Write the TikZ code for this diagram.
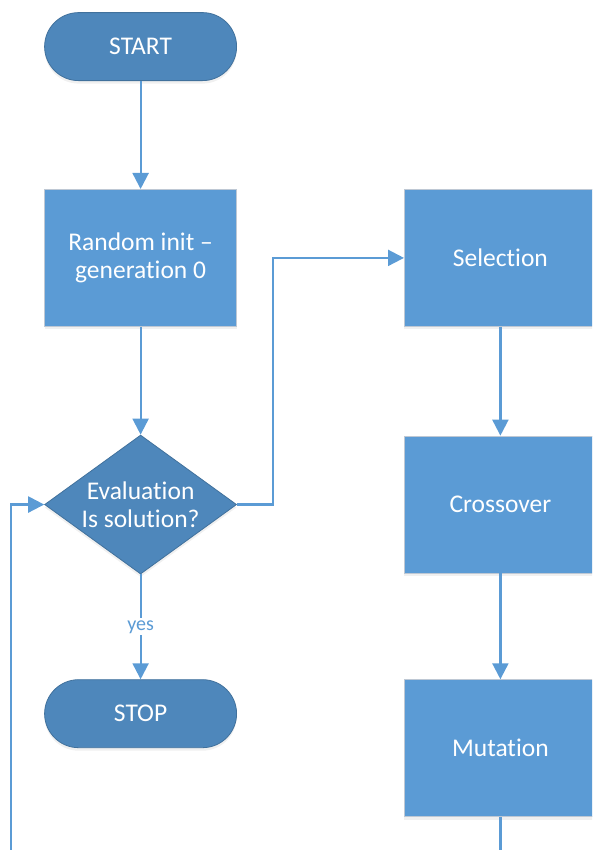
\documentclass[tikz,border=0pt]{standalone}
\usepackage{fontspec}
\setmainfont[Ligatures=NoCommon]{Carlito}
\usetikzlibrary{shapes.geometric}
\usetikzlibrary{arrows.meta}
\usetikzlibrary{shadows}

\definecolor{flowblue}{RGB}{91,155,213}
\definecolor{darkblue}{RGB}{78,135,187}
\definecolor{edgeblue}{RGB}{65,113,156}
\definecolor{edgegray}{RGB}{190,200,212}

\tikzset{
	terminal/.style={rectangle,rounded corners=34pt,minimum width=192pt,minimum height=68pt,inner sep=0pt,fill=darkblue,draw=edgeblue,line width=0.8pt,text=white,drop shadow={opacity=0.12,shadow xshift=0pt,shadow yshift=-3pt}},
	process/.style={rectangle,minimum width=192pt,minimum height=137pt,inner sep=0pt,fill=flowblue,draw=edgegray,line width=0.8pt,text=white,align=center,drop shadow={opacity=0.12,shadow xshift=0pt,shadow yshift=-3pt}},
	decision/.style={diamond,aspect=1.38,minimum width=192pt,minimum height=139pt,inner sep=0pt,fill=darkblue,draw=edgeblue,line width=0.8pt,text=white,align=center,drop shadow={opacity=0.12,shadow xshift=0pt,shadow yshift=-3pt}},
	flow/.style={draw=flowblue,line width=2.2pt,-{Triangle[length=16pt,width=16pt]}},
	plain/.style={draw=flowblue,line width=2.2pt}
}

\begin{document}
\begin{tikzpicture}[font=\fontsize{25.5}{28}\selectfont]
	\useasboundingbox (0,0) rectangle (592pt,-850pt);
	\clip (0,0) rectangle (592pt,-850pt);
	\matrix[column sep=167pt,row sep=108pt,inner sep=0pt,matrix anchor=north west] at (44pt,-12pt) {
		\node [terminal] (start) {START}; \\
		\node [process] (init) {Random init --\\generation 0}; & \node [process] (sel) {Selection}; \\
		\node [decision] (eval) {Evaluation\\Is solution?}; & \node [process] (cross) {Crossover}; \\[-3pt]
		\node [terminal,anchor=north] (stop) {STOP}; & \node [process,anchor=north] (mut) {Mutation}; \\
	};
	\coordinate (loop) at (11pt,-851pt);
	\coordinate (out) at (mut |- loop);
	\draw[flow] (start) -- (init);
	\draw[flow] (init) -- (eval);
	\draw[flow] (eval.east) -- ++(right:36pt) |- (sel.west);
	\draw[flow] (sel) -- (cross);
	\draw[flow] (cross) -- (mut);
	\draw[flow] (eval) -- node[fill=white,text=flowblue,font=\fontsize{20}{22}\selectfont,inner sep=2pt] {yes} (stop);
	\draw[plain] (mut) -- (out);
	\draw[flow] (loop) |- (eval.west);
\end{tikzpicture}
\end{document}
